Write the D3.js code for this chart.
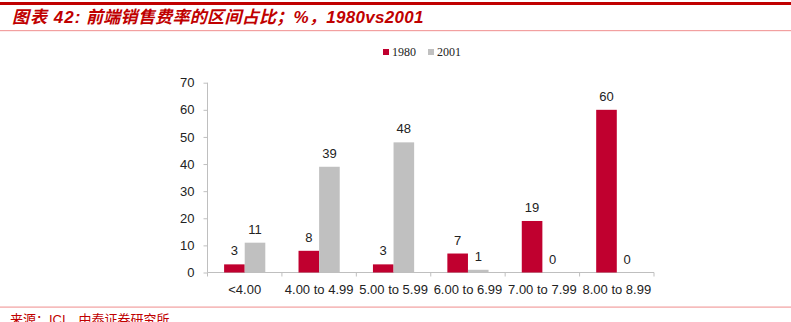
<!DOCTYPE html>
<html><head><meta charset="utf-8">
<script src="https://cdn.jsdelivr.net/npm/d3@7"></script>
<style>body{margin:0;background:#fff;} svg{display:block;}</style>
</head><body>
<script>
const categories = ["<4.00","4.00 to 4.99","5.00 to 5.99","6.00 to 6.99","7.00 to 7.99","8.00 to 8.99"];
const series1980 = [3,8,3,7,19,60];
const series2001 = [11,39,48,1,0,0];
const seriesNames = ["1980","2001"];
const yTicks = [0,10,20,30,40,50,60,70];
const titleParts = ["图表 42:", "前端销售费率的区间占比；%，1980vs2001"];
const sourceText = "来源：ICI，中泰证券研究所";

const W=791,H=322;
const svg=d3.select("body").append("svg").attr("width",W).attr("height",H);
const colors=["#C0002F","#C0C0C0"];

// header lines
svg.append("rect").attr("x",0).attr("y",2).attr("width",W).attr("height",3).attr("fill","#C00000");
svg.append("rect").attr("x",0).attr("y",30).attr("width",W).attr("height",1.2).attr("fill","#F2A0A0");
svg.append("rect").attr("x",0).attr("y",306.5).attr("width",W).attr("height",1.2).attr("fill","#F2A0A0");

const tt=svg.append("text").attr("y",23).attr("fill","#C00000")
  .style("font-family","'Liberation Sans','Noto Sans CJK SC',sans-serif")
  .style("font-size","17px").style("font-weight","bold").style("font-style","italic");
const tx=[12,86];
const ls=["1px","0.3px"];
titleParts.forEach((p,i)=>{
  tt.append("tspan").attr("x",tx[i]).style("letter-spacing",ls[i]).text(p);
});

svg.append("text").attr("x",10).attr("y",324).attr("fill","#C00000")
  .style("font-family","'Liberation Sans','Noto Sans CJK SC',sans-serif")
  .style("font-size","13px")
  .text(sourceText);

const x0=207.5,x1=654,yb=272.5,yt=82.7;
const x=d3.scaleBand().domain(categories).range([x0,x1]).paddingInner(0).paddingOuter(0);
const y=d3.scaleLinear().domain([0,70]).range([yb,yt]);
const bw=20.6;

const font="'Liberation Sans',Arial,sans-serif";

// y axis
const ya=svg.append("g").attr("transform",`translate(${x0},0)`)
  .call(d3.axisLeft(y).tickValues(yTicks).tickSize(4).tickPadding(9));
ya.select(".domain").attr("stroke","#BFBFBF").attr("d",`M0,${yt}V${yb}`);
ya.selectAll(".tick line").attr("stroke","#BFBFBF");
ya.selectAll(".tick text").style("font-family",font).style("font-size","13px").attr("fill","#222");

// x axis
const xa=svg.append("g").attr("transform",`translate(0,${yb})`)
  .call(d3.axisBottom(x).tickSize(0).tickPadding(12));
xa.select(".domain").attr("stroke","#BFBFBF").attr("d",`M${x0},0H${x1}`);
xa.selectAll(".tick text").style("font-family",font).style("font-size","13px").attr("fill","#222");
const bounds=categories.map(c=>x(c)).concat([x1]);
xa.selectAll(".sep").data(bounds).enter().append("line")
  .attr("x1",d=>d).attr("x2",d=>d).attr("y1",0).attr("y2",4).attr("stroke","#BFBFBF");

const data=[series1980,series2001];
data.forEach((vals,si)=>{
  const g=svg.append("g");
  g.selectAll("rect").data(vals).enter().append("rect")
    .attr("x",(d,i)=>x(categories[i])+x.bandwidth()/2+(si===0?-bw:0))
    .attr("y",d=>y(d)).attr("width",bw).attr("height",d=>yb-y(d))
    .attr("fill",colors[si]);
  g.selectAll("text").data(vals).enter().append("text")
    .attr("x",(d,i)=>x(categories[i])+x.bandwidth()/2+(si===0?-bw/2:bw/2))
    .attr("y",d=>y(d)-9).attr("text-anchor","middle")
    .style("font-family",font).style("font-size","13px").attr("fill","#222")
    .text(d=>d);
});

// legend
const lg=svg.append("g");
const lx=[383,428];
seriesNames.forEach((n,i)=>{
  lg.append("rect").attr("x",lx[i]).attr("y",49).attr("width",6).attr("height",6).attr("fill",colors[i]);
  lg.append("text").attr("x",lx[i]+9).attr("y",56).style("font-family","'Liberation Serif','Times New Roman',serif")
    .style("font-size","12px").attr("fill","#222").text(n);
});
</script>
</body></html>
